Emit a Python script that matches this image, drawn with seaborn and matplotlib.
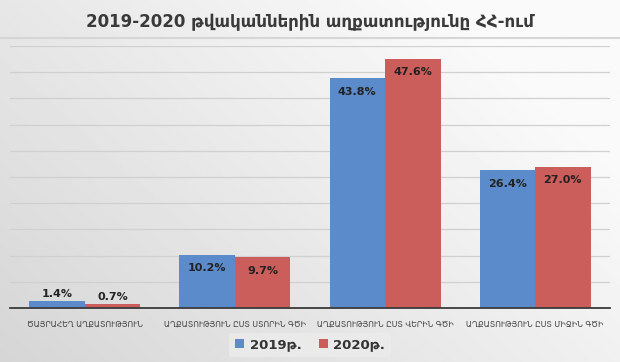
import matplotlib
matplotlib.use("Agg")
import matplotlib.pyplot as plt
import seaborn as sns
import pandas as pd
import numpy as np

categories = [
    "ԾԱՅՐԱՀԵՂ ԱՂՔԱՏՈՒԹՅՈՒՆ",
    "ԱՂՔԱՏՈՒԹՅՈՒՆ ԸՍՏ ՍՏՈՐԻՆ ԳԾԻ",
    "ԱՂՔԱՏՈՒԹՅՈՒՆ ԸՍՏ ՎԵՐԻՆ ԳԾԻ",
    "ԱՂՔԱՏՈՒԹՅՈՒՆ ԸՍՏ ՄԻՋԻՆ ԳԾԻ",
]
years = ["2019թ.", "2020թ."]
values_2019 = [1.4, 10.2, 43.8, 26.4]
values_2020 = [0.7, 9.7, 47.6, 27.0]
colors = ["#5B8BCA", "#CB5D5A"]
title = "2019-2020 թվականներին աղքատությունը ՀՀ-ում"

df = pd.DataFrame({
    "category": categories * 2,
    "year": [years[0]] * 4 + [years[1]] * 4,
    "value": values_2019 + values_2020,
})

sns.set_style("white")
plt.rcParams["font.family"] = ["DejaVu Sans"]

fig = plt.figure(figsize=(6.2, 3.62), dpi=100)

# gray gradient background, lighter towards the upper right
bg = fig.add_axes([0, 0, 1, 1], zorder=-10)
yy, xx = np.mgrid[0:1:200j, 0:1:300j]
grad = 0.83 + 0.15 * np.clip(0.7 * xx + 0.45 * (1 - yy) + 0.05, 0, 1)
bg.imshow(grad, cmap="gray", vmin=0, vmax=1, aspect="auto", extent=[0, 1, 0, 1])
bg.axhline(0.895, color="#d6d6d6", lw=1.5)
bg.set_axis_off()

ax = fig.add_axes([0.016, 0.149, 0.968, 0.724])
ax.patch.set_alpha(0)

sns.barplot(data=df, x="category", y="value", hue="year", palette=colors,
            width=0.74, gap=0, saturation=1, linewidth=0, ax=ax, legend=True)

ax.set_ylim(0, 50)
ax.set_xlim(-0.5, 3.5)
ax.set_yticks(np.arange(5, 51, 5))
ax.yaxis.grid(True, color="#d0d0d0", lw=0.9)
ax.set_axisbelow(True)
ax.tick_params(axis="y", left=False, labelleft=False)
ax.tick_params(axis="x", bottom=False, labelsize=5.6, labelcolor="#444444", pad=5)
ax.set_xlabel("")
ax.set_ylabel("")
for s in ["top", "right", "left"]:
    ax.spines[s].set_visible(False)
ax.spines["bottom"].set_color("#3a3a3a")
ax.spines["bottom"].set_linewidth(1.3)

for cont in ax.containers:
    for p in cont:
        h = p.get_height()
        x = p.get_x() + p.get_width() / 2
        off = 5 if h < 5 else -10
        ax.annotate(f"{h:.1f}%", (x, h), xytext=(0, off), textcoords="offset points",
                    ha="center", va="center", fontsize=8, fontweight="bold", color="#222222")

handles, labels = ax.get_legend_handles_labels()
ax.legend_.remove()
leg = fig.legend(handles, labels, loc="center", bbox_to_anchor=(0.5, 0.047), ncol=2,
                 frameon=True, fontsize=9.5, handlelength=0.7, handleheight=0.7,
                 columnspacing=1.3, handletextpad=0.4, borderpad=0.45)
leg.get_frame().set_facecolor("#ececec")
leg.get_frame().set_edgecolor("none")
for t in leg.get_texts():
    t.set_color("#333333")
    t.set_fontweight("bold")

fig.text(0.5, 0.938, title, ha="center", va="center", fontsize=12,
         fontweight="bold", color="#3a3a3a")

fig.savefig("out.png", dpi=100)
